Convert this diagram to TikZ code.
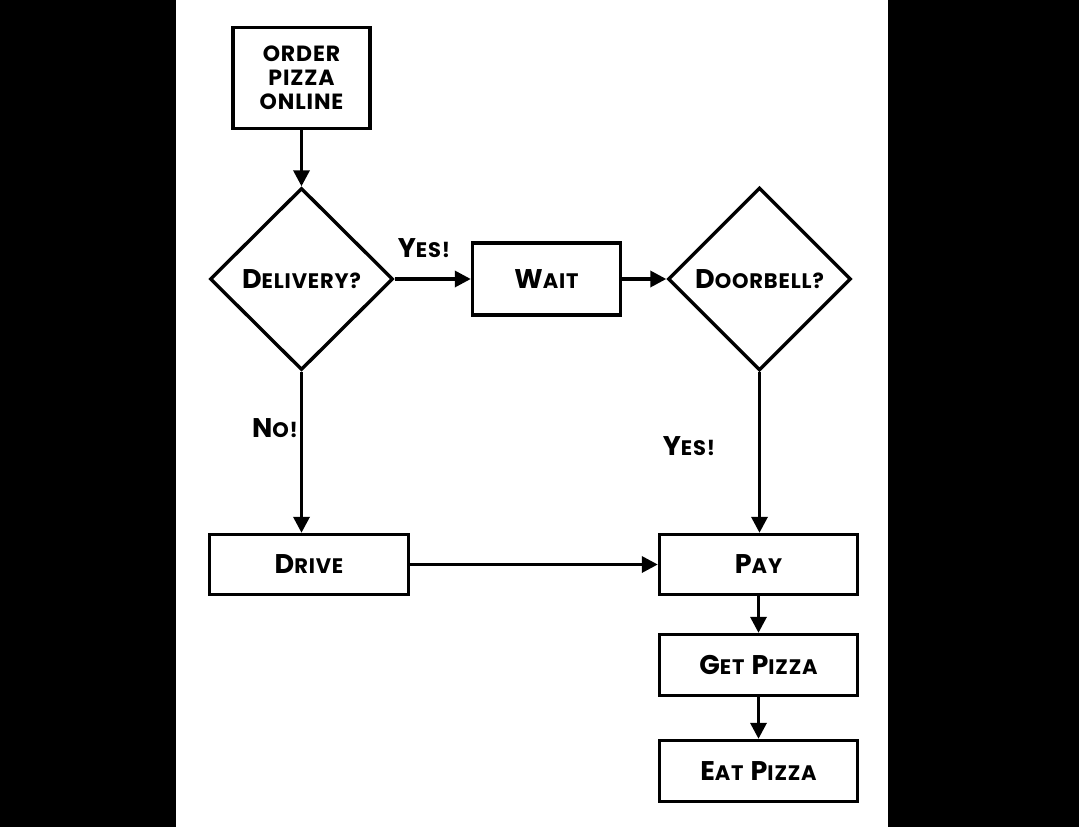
\documentclass[tikz,border=0pt]{standalone}
\usepackage{fontspec}
\setmainfont{Poppins}[LetterSpace=4]
\usetikzlibrary{shapes.geometric,arrows.meta}
\newcommand\capA[1]{{\fontsize{27}{27}\selectfont #1}}
\newcommand\capB[1]{{\fontsize{21}{21}\selectfont #1}}
\newcommand\sct[2]{\capA{#1}\capB{#2}}
\newcommand\gap{\hspace{7pt}}
\begin{document}
\begin{tikzpicture}[x=1pt,y=-1pt,
  every node/.style={font=\bfseries},
  boxnode/.style={draw,line width=3.4pt,rectangle,inner sep=0pt,align=center},
  decision/.style={draw,line width=3.4pt,diamond,inner sep=0pt,aspect=1},
  link/.style={line width=3.4pt,-{Triangle[length=16pt,width=16pt]}},
  lbl/.style={inner sep=0pt}]
\fill[black] (0,0) rectangle (1079,827);
\fill[white] (176,0) rectangle (888,827);
\useasboundingbox (0,0) rectangle (1079,827);

\node[boxnode,minimum width=137pt,minimum height=101pt,
      font=\bfseries\fontsize{22}{24}\selectfont] (order) at (301.5,78)
  {ORDER\\PIZZA\\ONLINE};
\node[decision,minimum width=183pt,minimum height=182pt] (delivery) at (301.5,279)
  {\sct{D}{ELIVERY?}};
\node[boxnode,minimum width=148pt,minimum height=72pt] (wait) at (546.5,279)
  {\sct{W}{AIT}};
\node[decision,minimum width=183pt,minimum height=183pt] (doorbell) at (759.5,279)
  {\sct{D}{OORBELL?}};
\node[boxnode,minimum width=199pt,minimum height=60pt] (drive) at (309,564.5)
  {\sct{D}{RIVE}};
\node[boxnode,minimum width=198pt,minimum height=60pt] (pay) at (758.5,564.5)
  {\sct{P}{AY}};
\node[boxnode,minimum width=198pt,minimum height=61pt] (get) at (758.5,665)
  {\sct{G}{ET}\gap\sct{P}{IZZA}};
\node[boxnode,minimum width=198pt,minimum height=61pt] (eat) at (758.5,771)
  {\sct{E}{AT}\gap\sct{P}{IZZA}};

\node[lbl] (yes1) at (424,248) {\sct{Y}{ES!}};
\node[lbl] (no1) at (275,428) {\sct{N}{O!}};
\node[lbl] (yes2) at (689,446) {\sct{Y}{ES!}};

\draw[link] (order.south) -- (delivery.north);
\draw[link] (delivery.east) -- (wait.west);
\draw[link] (wait.east) -- (doorbell.west);
\draw[link] (delivery.south) -- (delivery.south |- drive.north);
\draw[link] (doorbell.south) -- (doorbell.south |- pay.north);
\draw[link] (drive.east) -- (pay.west);
\draw[link] (pay.south) -- (get.north);
\draw[link] (get.south) -- (eat.north);
\end{tikzpicture}
\end{document}
